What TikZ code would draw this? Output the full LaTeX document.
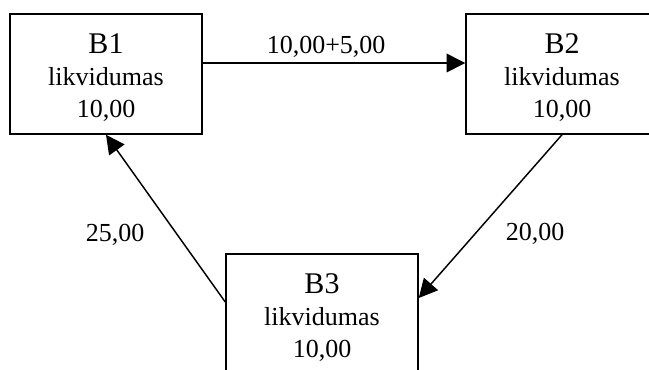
\documentclass[tikz,border=0pt]{standalone}
\usepackage{fontspec}
\setmainfont{Liberation Serif}
\usetikzlibrary{arrows.meta}

\tikzset{
  bank/.style={draw, line width=1.1pt, minimum width=144pt, minimum height=90pt,
    inner sep=0pt, align=center},
  flow/.style={-{Triangle[length=14pt,width=14pt]}, line width=1.1pt},
}
\newcommand{\bname}[1]{{\fontsize{22.5pt}{24pt}\selectfont\rule{0pt}{19.5pt}#1}}

\begin{document}
\begin{tikzpicture}[x=0.75pt, y=-0.75pt, font=\fontsize{19.5pt}{24pt}\selectfont]
 \useasboundingbox (0,0) rectangle (649,369);
 \clip (0,0) rectangle (649,369);

 \node[bank] (b1) at (106, 74)  {\bname{B1}\\likvidumas\\10,00};
 \node[bank] (b2) at (562, 74)  {\bname{B2}\\likvidumas\\10,00};
 \node[bank] (b3) at (322, 314) {\bname{B3}\\likvidumas\\10,00};

 \path[flow] ([yshift=8.25pt]b1.east) edge node[pos=0.47, above] {10,00+5,00} ([yshift=8.25pt]b2.west);
 \path[flow] (b2.south) edge node[pos=0.61, right=19.5pt] {20,00} ([yshift=12pt]b3.east);
 \path[flow] ([yshift=9pt]b3.west) edge node[pos=0.4, left=21pt] {25,00} (b1.south);
\end{tikzpicture}
\end{document}
